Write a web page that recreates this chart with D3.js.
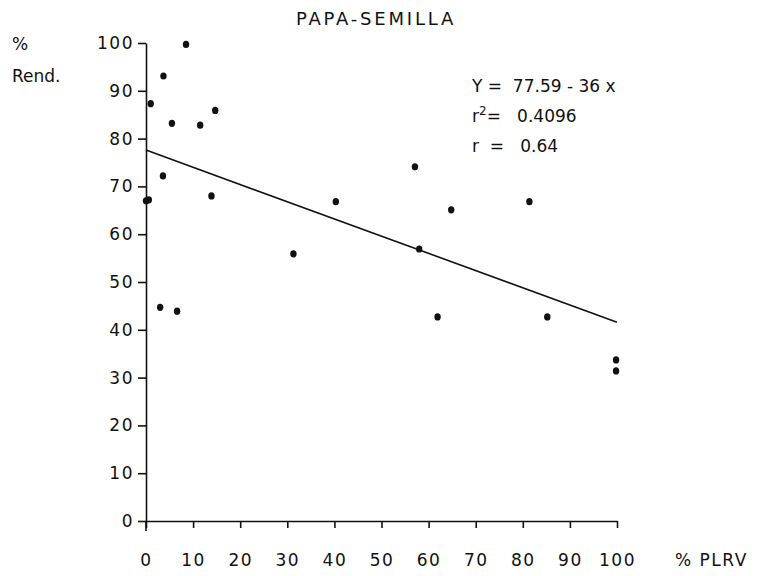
<!DOCTYPE html>
<html>
<head>
<meta charset="utf-8">
<script src="https://cdn.jsdelivr.net/npm/d3@7"></script>
<style>
  body { margin: 0; background: #fff; }
  text { font-family: "DejaVu Sans", sans-serif; fill: #111; }
  .stat, .stat tspan { white-space: pre; }
</style>
</head>
<body>
<div id="vis"></div>
<script>
// % PLRV (x) vs % rendimiento (y)
var plrv = [1, 0, 0.6, 3.7, 8.5, 5.5, 11.5, 14.7, 3.6, 13.9, 3, 6.6, 31.3, 40.3, 57.1, 58, 61.9, 64.8, 81.4, 85.2, 99.8, 99.8];
var rend = [87.3, 67, 67.2, 93.1, 99.7, 83.2, 82.8, 85.9, 72.2, 68, 44.7, 43.9, 55.9, 66.8, 74.1, 56.9, 42.7, 65.1, 66.8, 42.7, 33.7, 31.4];
var xTicks = [0, 10, 20, 30, 40, 50, 60, 70, 80, 90, 100];
var yTicks = [0, 10, 20, 30, 40, 50, 60, 70, 80, 90, 100];
var intercept = 77.59;
var slope = -0.36;

var width = 757, height = 576;

var svg = d3.select("#vis")
    .append("svg")
    .attr("width", width)
    .attr("height", height);

var x = d3.scaleLinear().domain([0, 100]).range([146, 617]);
var y = d3.scaleLinear().domain([0, 100]).range([521, 43]);

// title
svg.append("text")
    .attr("x", 376)
    .attr("y", 25)
    .attr("text-anchor", "middle")
    .style("font-size", "18px")
    .style("letter-spacing", "2.8px")
    .text("PAPA-SEMILLA");

// x axis
var xAxis = svg.append("g")
    .attr("transform", "translate(0," + y(0) + ")")
    .call(d3.axisBottom(x).tickValues(xTicks).tickSize(7).tickSizeOuter(0).tickPadding(26));
xAxis.select(".domain").attr("stroke", "#111").attr("stroke-width", 1.6);
xAxis.selectAll(".tick line").attr("stroke", "#111").attr("stroke-width", 1.6);
xAxis.selectAll(".tick text")
    .style("font-size", "17px")
    .style("font-family", "DejaVu Sans, sans-serif")
    .style("letter-spacing", "1.5px")
    .attr("fill", "#111");

// y axis
var yAxis = svg.append("g")
    .attr("transform", "translate(" + x(0) + ",0)")
    .call(d3.axisLeft(y).tickValues(yTicks).tickSize(8).tickSizeOuter(0).tickPadding(4));
yAxis.select(".domain").attr("stroke", "#111").attr("stroke-width", 1.6);
yAxis.selectAll(".tick line").attr("stroke", "#111").attr("stroke-width", 1.6);
yAxis.selectAll(".tick text")
    .style("font-size", "17px")
    .style("font-family", "DejaVu Sans, sans-serif")
    .style("letter-spacing", "1.5px")
    .attr("fill", "#111");

// little overhang of the y axis below zero
svg.append("line")
    .attr("x1", x(0)).attr("x2", x(0))
    .attr("y1", y(0)).attr("y2", y(0) + 10)
    .attr("stroke", "#111").attr("stroke-width", 1.6);

// axis titles
svg.append("text")
    .attr("x", 12).attr("y", 50)
    .style("font-size", "17px")
    .text("%");
svg.append("text")
    .attr("x", 12).attr("y", 82)
    .style("font-size", "17px")
    .text("Rend.");
svg.append("text")
    .attr("x", 675).attr("y", 566)
    .style("font-size", "17px")
    .style("letter-spacing", "1.5px")
    .text("% PLRV");

// regression line
svg.append("line")
    .attr("x1", x(0)).attr("y1", y(intercept))
    .attr("x2", x(100)).attr("y2", y(intercept + slope * 100))
    .attr("stroke", "#111")
    .attr("stroke-width", 1.6);

// points
svg.selectAll(".dot")
    .data(plrv)
    .enter()
    .append("ellipse")
    .attr("class", "dot")
    .attr("cx", function (d) { return x(d); })
    .attr("cy", function (d, i) { return y(rend[i]); })
    .attr("rx", 3.2)
    .attr("ry", 3.6)
    .attr("fill", "#111");

// regression stats
var stats = svg.append("g").style("font-size", "17px");
stats.append("text").attr("class", "stat").attr("x", 472).attr("y", 92).text("Y =  77.59 - 36 x");
var r2 = stats.append("text").attr("class", "stat").attr("x", 472).attr("y", 122);
r2.append("tspan").text("r");
r2.append("tspan").attr("dy", -7).style("font-size", "12px").text("2");
r2.append("tspan").attr("dy", 7).text("=   0.4096");
stats.append("text").attr("class", "stat").attr("x", 472).attr("y", 152).text("r  =   0.64");
</script>
</body>
</html>
